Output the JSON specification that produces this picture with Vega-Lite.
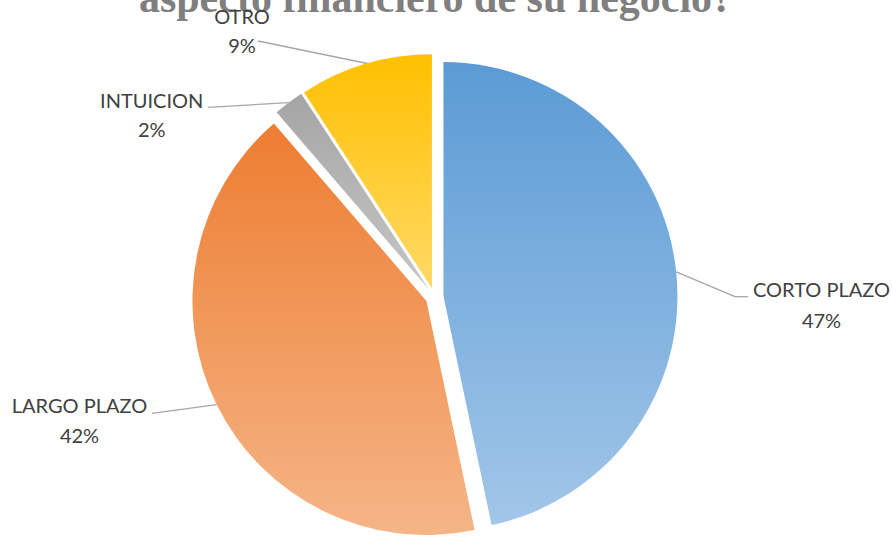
{
  "$schema": "https://vega.github.io/schema/vega-lite/v6.json",
  "width": 869,
  "height": 478,
  "autosize": "none",
  "padding": {"left": 0, "top": 58, "right": 23, "bottom": 0},
  "background": "white",
  "view": {"stroke": null},
  "data": {
    "values": [
      {"cat": "CORTO PLAZO", "share": 0.467, "order": 1},
      {"cat": "LARGO PLAZO", "share": 0.42, "order": 2},
      {"cat": "INTUICION", "share": 0.021, "order": 3},
      {"cat": "OTRO", "share": 0.092, "order": 4}
    ]
  },
  "layer": [
    {
      "data": {"values": [{"title": "aspecto financiero de su negocio?"}]},
      "mark": {"type": "text", "font": "Liberation Serif", "fontSize": 42, "fontWeight": "bold", "color": "#7f7f7f",
        "align": "center", "baseline": "alphabetic", "dx": 1.5, "dy": -285.5},
      "encoding": {"text": {"field": "title"}}
    },
    {
      "transform": [
        {"stack": "share", "groupby": [], "as": ["s0", "s1"], "sort": [{"field": "order", "order": "ascending"}]}
      ],
      "layer": [
        {
          "transform": [{"filter": "datum.cat === 'CORTO PLAZO'"}],
          "layer": [
            {
              "mark": {"type": "arc", "radius": 234, "xOffset": 8.95, "yOffset": -0.93, "stroke": null,
                "fill": {"gradient": "linear", "x1": 0, "y1": 0, "x2": 0, "y2": 1,
                  "stops": [{"offset": 0, "color": "#5b9bd5"}, {"offset": 1, "color": "#a2c6e8"}]}},
              "encoding": {
                "theta": {"field": "s0", "type": "quantitative", "scale": {"domain": [0, 1], "range": [0, 6.283185307]}},
                "theta2": {"field": "s1"}
              }
            },
            {"mark": {"type": "rule", "color": "#a6a6a6", "strokeWidth": 1.3},
              "encoding": {"x": {"value": 676.2}, "y": {"value": 213.9}, "x2": {"value": 735}, "y2": {"value": 238.7}}},
            {"mark": {"type": "rule", "color": "#a6a6a6", "strokeWidth": 1.3},
              "encoding": {"x": {"value": 735}, "y": {"value": 238.7}, "x2": {"value": 748}, "y2": {"value": 238.7}}},
            {"mark": {"type": "text", "font": "Lato", "fontSize": 20, "color": "#404040", "align": "center", "baseline": "alphabetic", "dx": 387, "dy": 0.3},
              "encoding": {"text": {"field": "cat"}}},
            {"mark": {"type": "text", "font": "Lato", "fontSize": 20, "color": "#404040", "align": "center", "baseline": "alphabetic", "dx": 387, "dy": 31.3},
              "encoding": {"text": {"field": "share", "type": "quantitative", "format": ".0%"}}}
          ]
        },
        {
          "transform": [{"filter": "datum.cat === 'LARGO PLAZO'"}],
          "layer": [
            {
              "mark": {"type": "arc", "radius": 234, "xOffset": -8.07, "yOffset": 3.99, "stroke": null,
                "fill": {"gradient": "linear", "x1": 0, "y1": 0, "x2": 0, "y2": 1,
                  "stops": [{"offset": 0, "color": "#ed7d31"}, {"offset": 1, "color": "#f5b587"}]}},
              "encoding": {
                "theta": {"field": "s0", "type": "quantitative", "scale": {"domain": [0, 1], "range": [0, 6.283185307]}},
                "theta2": {"field": "s1"}
              }
            },
            {"mark": {"type": "rule", "color": "#a6a6a6", "strokeWidth": 1.3},
              "encoding": {"x": {"value": 216.6}, "y": {"value": 346.6}, "x2": {"value": 152}, "y2": {"value": 355.3}}},
            {"mark": {"type": "text", "font": "Lato", "fontSize": 20, "color": "#404040", "align": "center", "baseline": "alphabetic", "dx": -355, "dy": 116.3},
              "encoding": {"text": {"field": "cat"}}},
            {"mark": {"type": "text", "font": "Lato", "fontSize": 20, "color": "#404040", "align": "center", "baseline": "alphabetic", "dx": -355, "dy": 145.7},
              "encoding": {"text": {"field": "share", "type": "quantitative", "format": ".0%"}}}
          ]
        },
        {
          "transform": [{"filter": "datum.cat === 'INTUICION'"}],
          "layer": [
            {
              "mark": {"type": "arc", "radius": 234, "xOffset": -5.4, "yOffset": -7.2, "stroke": null,
                "fill": {"gradient": "linear", "x1": 0, "y1": 0, "x2": 0, "y2": 1,
                  "stops": [{"offset": 0, "color": "#a5a5a5"}, {"offset": 1, "color": "#c6c6c6"}]}},
              "encoding": {
                "theta": {"field": "s0", "type": "quantitative", "scale": {"domain": [0, 1], "range": [0, 6.283185307]}},
                "theta2": {"field": "s1"}
              }
            },
            {"mark": {"type": "rule", "color": "#a6a6a6", "strokeWidth": 1.3},
              "encoding": {"x": {"value": 288.6}, "y": {"value": 44.7}, "x2": {"value": 208}, "y2": {"value": 49.3}}},
            {"mark": {"type": "text", "font": "Lato", "fontSize": 20, "color": "#404040", "align": "center", "baseline": "alphabetic", "dx": -282.8, "dy": -188.7},
              "encoding": {"text": {"field": "cat"}}},
            {"mark": {"type": "text", "font": "Lato", "fontSize": 20, "color": "#404040", "align": "center", "baseline": "alphabetic", "dx": -282.8, "dy": -159.7},
              "encoding": {"text": {"field": "share", "type": "quantitative", "format": ".0%"}}}
          ]
        },
        {
          "transform": [{"filter": "datum.cat === 'OTRO'"}],
          "layer": [
            {
              "mark": {"type": "arc", "radius": 234, "xOffset": -2.57, "yOffset": -8.63, "stroke": null,
                "fill": {"gradient": "linear", "x1": 0, "y1": 0, "x2": 0, "y2": 1,
                  "stops": [{"offset": 0, "color": "#ffc000"}, {"offset": 1, "color": "#ffd966"}]}},
              "encoding": {
                "theta": {"field": "s0", "type": "quantitative", "scale": {"domain": [0, 1], "range": [0, 6.283185307]}},
                "theta2": {"field": "s1"}
              }
            },
            {"mark": {"type": "rule", "color": "#a6a6a6", "strokeWidth": 1.3},
              "encoding": {"x": {"value": 367.3}, "y": {"value": 5.5}, "x2": {"value": 258}, "y2": {"value": -17}}},
            {"mark": {"type": "text", "font": "Lato", "fontSize": 20, "color": "#404040", "align": "center", "baseline": "alphabetic", "dx": -192.5, "dy": -273},
              "encoding": {"text": {"field": "cat"}}},
            {"mark": {"type": "text", "font": "Lato", "fontSize": 20, "color": "#404040", "align": "center", "baseline": "alphabetic", "dx": -192.5, "dy": -244},
              "encoding": {"text": {"field": "share", "type": "quantitative", "format": ".0%"}}}
          ]
        }
      ]
    }
  ]
}
